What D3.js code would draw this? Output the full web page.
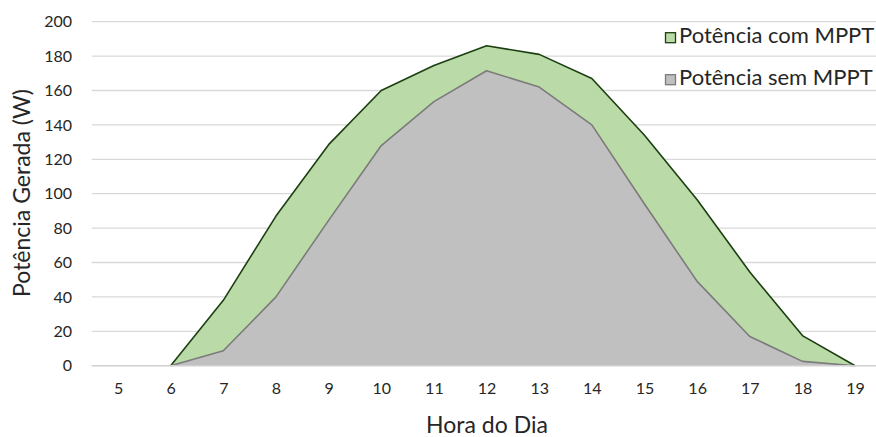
<!DOCTYPE html>
<html>
<head>
<meta charset="utf-8">
<script src="https://cdn.jsdelivr.net/npm/d3@7"></script>
<style>
  html, body { margin: 0; padding: 0; background: #fff; }
  svg { display: block; }
  text { font-family: Lato, "Noto Sans", sans-serif; fill: #262626; }
</style>
</head>
<body>
<svg id="chart" width="876" height="437"></svg>
<script>
// Hour of day (category axis)
const hours = [5, 6, 7, 8, 9, 10, 11, 12, 13, 14, 15, 16, 17, 18, 19];
// Generated power with MPPT (W); no reading at 5 h
const comMPPT = [null, 0, 38, 87, 128.5, 160, 174.5, 186, 181, 167, 134, 96.5, 54.5, 17.5, 0];
// Generated power without MPPT (W)
const semMPPT = [null, 0, 8.7, 40, 84.5, 128, 153.5, 171.5, 162, 140, 94, 49, 17, 2.5, 0];
// Value axis ticks
const yTicks = [0, 20, 40, 60, 80, 100, 120, 140, 160, 180, 200];

const seriesNames = ["Potência com MPPT", "Potência sem MPPT"];
const xTitle = "Hora do Dia";
const yTitle = "Potência Gerada (W)";

const W = 876, H = 437;
const svg = d3.select("#chart");

const x = d3.scaleLinear().domain([4.5, 19.5]).range([91.7, 881.4]);
const y = d3.scaleLinear().domain([0, 200]).range([365.7, 21.7]);

// Horizontal gridlines
svg.append("g")
  .selectAll("line")
  .data(yTicks.filter(d => d > 0))
  .join("line")
  .attr("x1", x(4.5)).attr("x2", W)
  .attr("y1", d => y(d)).attr("y2", d => y(d))
  .attr("stroke", "#d9d9d9").attr("stroke-width", 1.3);

const rowsCom = hours.map((h, i) => ({ h, v: comMPPT[i] }));
const rowsSem = hours.map((h, i) => ({ h, v: semMPPT[i] }));

const area = d3.area()
  .defined(d => d.v !== null)
  .x(d => x(d.h)).y0(y(0)).y1(d => y(d.v));
const line = d3.line()
  .defined(d => d.v !== null)
  .x(d => x(d.h)).y(d => y(d.v));

// With MPPT (behind)
svg.append("path").datum(rowsCom)
  .attr("d", area).attr("fill", "#badba7");
svg.append("path").datum(rowsCom)
  .attr("d", line).attr("fill", "none")
  .attr("stroke", "#1c3f12").attr("stroke-width", 1.6).attr("stroke-linejoin", "round");

// Without MPPT (front)
svg.append("path").datum(rowsSem)
  .attr("d", area).attr("fill", "#c0c0c0");
svg.append("path").datum(rowsSem)
  .attr("d", line).attr("fill", "none")
  .attr("stroke", "#7b7b7b").attr("stroke-width", 1.6).attr("stroke-linejoin", "round");

// Category axis baseline
svg.append("line")
  .attr("x1", x(4.5)).attr("x2", W)
  .attr("y1", y(0)).attr("y2", y(0))
  .attr("stroke", "#d0d0d0").attr("stroke-width", 1.5);

// Y axis labels
const yAxis = d3.axisLeft(y).tickValues(yTicks).tickSize(0).tickPadding(0);
svg.append("g")
  .attr("transform", "translate(72,0)")
  .call(yAxis)
  .call(g => g.select(".domain").remove())
  .call(g => g.selectAll("text")
    .attr("font-family", "Lato, sans-serif")
    .attr("font-size", 16).attr("fill", "#262626"));

// X axis labels
const xAxis = d3.axisBottom(x).tickValues(hours).tickFormat(d3.format("d")).tickSize(0).tickPadding(0);
svg.append("g")
  .attr("transform", "translate(0,383)")
  .call(xAxis)
  .call(g => g.select(".domain").remove())
  .call(g => g.selectAll("text")
    .attr("font-family", "Lato, sans-serif")
    .attr("font-size", 16).attr("fill", "#262626"));

// Axis titles
svg.append("text")
  .attr("x", 487).attr("y", 433)
  .attr("text-anchor", "middle")
  .attr("font-size", 23)
  .text(xTitle);

svg.append("text")
  .attr("transform", "translate(30,193) rotate(-90)")
  .attr("text-anchor", "middle")
  .attr("font-size", 23)
  .text(yTitle);

// Legend
const legendFill = ["#badba7", "#c0c0c0"];
const legendStroke = ["#1c3f12", "#7b7b7b"];
const legend = svg.append("g");
seriesNames.forEach((name, i) => {
  const base = 42.7 + i * 42;
  legend.append("rect")
    .attr("x", 665.5).attr("y", base - 10)
    .attr("width", 10).attr("height", 10)
    .attr("fill", legendFill[i]).attr("stroke", legendStroke[i]).attr("stroke-width", 1.3);
  legend.append("text")
    .attr("x", 679).attr("y", base)
    .attr("font-size", 22)
    .text(name);
});
</script>
</body>
</html>
